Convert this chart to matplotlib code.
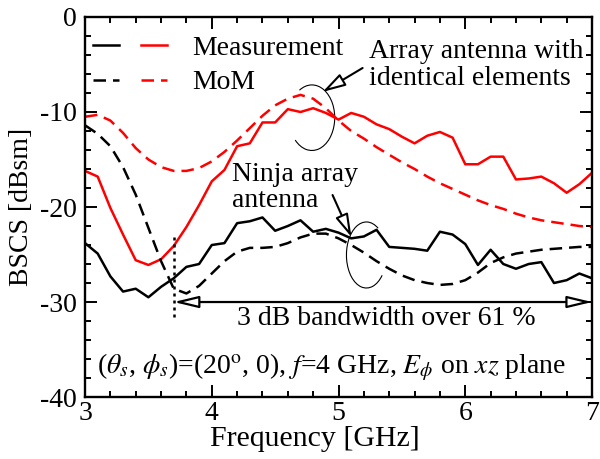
"""Bistatic RCS vs frequency: Ninja array vs array with identical elements."""

import numpy as np
import matplotlib as mpl
import matplotlib.pyplot as plt
from matplotlib.patches import Arc
from matplotlib.legend_handler import HandlerTuple

mpl.rcParams.update({
    "font.family": ["Liberation Serif", "DejaVu Serif"],
    "mathtext.fontset": "stix",
    "axes.unicode_minus": False,
    "font.size": 20,
})

# frequency grid of the readings [GHz]
freq = np.round(np.arange(3.0, 7.0001, 0.1), 1)

# array antenna with identical elements (red)
ident_meas = [-16.2, -16.8, -20.1, -22.9, -25.6, -26.1, -25.5, -24.1, -22.1, -19.8,
              -17.3, -16.1, -13.6, -13.3, -11.1, -11.1, -9.7, -10.0, -9.6, -10.1,
              -10.8, -10.1, -10.5, -11.3, -11.8, -12.6, -13.3, -12.5, -12.1, -12.7,
              -15.5, -15.5, -14.7, -14.7, -17.1, -17.0, -16.8, -17.5, -18.5, -17.6,
              -16.4]
ident_mom = [-10.5, -10.3, -10.9, -12.2, -13.8, -15.0, -15.8, -16.2, -16.2, -15.9,
             -15.2, -14.2, -13.0, -11.7, -10.4, -9.3, -8.6, -8.2, -8.6, -9.6,
             -10.9, -12.0, -12.8, -13.7, -14.5, -15.3, -16.0, -16.8, -17.5, -18.1,
             -18.7, -19.3, -19.8, -20.2, -20.7, -21.1, -21.4, -21.6, -21.8, -22.0,
             -22.1]

# ninja array antenna (black)
ninja_meas = [-23.8, -24.9, -27.3, -28.9, -28.6, -29.5, -28.4, -27.5, -26.3, -26.0,
              -24.0, -23.8, -21.7, -21.5, -21.1, -22.5, -22.0, -21.4, -22.6, -22.3,
              -22.7, -23.3, -23.1, -22.4, -24.2, -24.3, -24.4, -24.6, -22.6, -22.9,
              -23.9, -26.1, -24.5, -26.0, -26.5, -26.0, -25.8, -28.0, -27.7, -27.0,
              -27.5]
ninja_mom = [-11.4, -12.3, -13.6, -15.8, -18.7, -22.2, -25.7, -28.6, -29.1, -28.3,
             -27.0, -25.7, -24.7, -24.3, -24.3, -24.2, -23.8, -23.2, -22.8, -22.8,
             -23.3, -24.0, -24.8, -25.7, -26.5, -27.2, -27.7, -28.0, -28.2, -28.1,
             -27.7, -26.9, -25.9, -25.3, -24.9, -24.7, -24.5, -24.4, -24.3, -24.2,
             -24.2]

bw_start, bw_stop, bw_level = 3.7, 7.0, -30.0


def arc_angles(w, h, t1, t2):
    # parametric ellipse angles -> Arc angles (data-space geometric)
    a = [np.degrees(np.arctan2(h * np.sin(np.radians(t)), w * np.cos(np.radians(t))))
         for t in (t1, t2)]
    return a[0], a[1]


fig = plt.figure(figsize=(6.0, 4.59), dpi=100)
ax = fig.add_axes([0.1417, 0.135, 0.845, 0.828])

lw = 1.8
dash = (0, (5, 2.8))
b_meas, = ax.plot(freq, ninja_meas, color="k", lw=lw)
r_meas, = ax.plot(freq, ident_meas, color="#ff0000", lw=lw)
b_mom, = ax.plot(freq, ninja_mom, color="k", lw=lw, ls=dash)
r_mom, = ax.plot(freq, ident_mom, color="#ff0000", lw=lw, ls=dash)

ax.legend([(b_meas, r_meas), (b_mom, r_mom)], ["Measurement", "MoM"],
          handler_map={tuple: HandlerTuple(ndivide=None, pad=0.8)},
          loc="upper left", bbox_to_anchor=(0.0, 0.973), frameon=False,
          handlelength=2.66, handletextpad=0.9,
          borderaxespad=0.15, borderpad=0.15, labelspacing=0.32)

ax.set_xlim(3, 7)
ax.set_ylim(-40, 0)
ax.set_xticks([3, 4, 5, 6, 7])
ax.set_yticks([0, -10, -20, -30, -40])
ax.set_xticks(np.arange(3, 7.001, 0.2), minor=True)
ax.set_yticks(np.arange(-40, 0.001, 2), minor=True)
ax.tick_params(which="both", direction="in", top=True, right=True, width=1.4)
ax.tick_params(which="major", length=8.5, pad=3)
ax.tick_params(which="minor", length=4.3)
ax.tick_params(axis="y", which="major", pad=6)
for s in ax.spines.values():
    s.set_linewidth(1.7)
ax.set_xlabel("Frequency [GHz]", fontsize=21.5, va="center")
ax.xaxis.set_label_coords(0.454, -0.11)
ax.set_ylabel("BSCS [dBsm]", labelpad=4)

# annotation: array with identical elements
ax.text(5.244, -5.05, "Array antenna with\nidentical elements", ha="left", va="center",
        linespacing=1.1)
ax.annotate("", xy=(4.874, -7.89), xytext=(5.19, -5.37),
            arrowprops=dict(arrowstyle="-|>,head_length=0.7,head_width=0.2",
                            fc="white", ec="k", lw=1.5, shrinkA=0, shrinkB=0))
w1, h1 = 0.36, 6.9
t1, t2 = arc_angles(w1, h1, -137, 123)
ax.add_patch(Arc((4.79, -10.6), w1, h1, theta1=t1, theta2=t2, color="k", lw=0.8))

# annotation: ninja array
ax.text(4.157, -17.95, "Ninja array\nantenna", ha="left", va="center", linespacing=1.1)
ax.annotate("", xy=(5.102, -23.16), xytext=(4.953, -18.74),
            arrowprops=dict(arrowstyle="-|>,head_length=0.7,head_width=0.2",
                            fc="white", ec="k", lw=1.5, shrinkA=0, shrinkB=0))
w2, h2 = 0.315, 6.95
t1, t2 = arc_angles(w2, h2, 54, 322)
ax.add_patch(Arc((5.22, -25.05), w2, h2, theta1=t1, theta2=t2, color="k", lw=0.8))

# 3 dB bandwidth
ax.vlines(bw_start, -31.6, -23.2, colors="k", linestyles=(0, (1.2, 1.6)), lw=1.8)
ax.annotate("", xy=(bw_stop, bw_level), xytext=(bw_start, bw_level),
            arrowprops=dict(arrowstyle="<|-|>,head_length=0.75,head_width=0.18",
                            fc="white", ec="k", lw=1.6, shrinkA=0, shrinkB=0),
            annotation_clip=False)
ax.text(5.38, -31.7, "3 dB bandwidth over 61 %", ha="center", va="center")

ax.text(3.094, -36.9,
        r"($\theta_s$, $\phi_s$)=(20$^{\rm o}$, 0), $f$=4 GHz, $E_\phi$ on $xz$ plane",
        ha="left", va="center")

fig.savefig("out.png", dpi=100)
